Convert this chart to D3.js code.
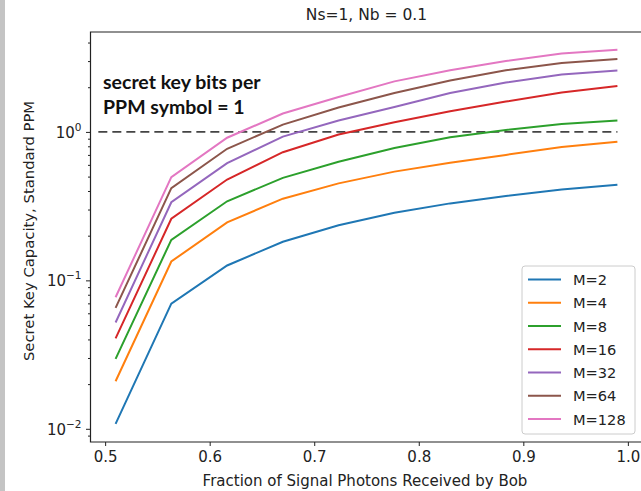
<!DOCTYPE html>
<html>
<head>
<meta charset="utf-8">
<script src="https://cdn.jsdelivr.net/npm/d3@7"></script>
<style>
body { margin: 0; background: #fff; }
svg { display: block; font-family: "DejaVu Sans", sans-serif; }
</style>
</head>
<body>
<svg id="chart" width="641" height="491"></svg>
<script>
// fraction of signal photons received (np.linspace(0.51, 0.99, 10))
var fractions = [0.51, 0.5633, 0.6167, 0.67, 0.7233, 0.7767, 0.83, 0.8833, 0.9367, 0.99];

var seriesNames = ["M=2", "M=4", "M=8", "M=16", "M=32", "M=64", "M=128"];

var capM2   = [0.0108, 0.0697, 0.126, 0.182, 0.235, 0.285, 0.33, 0.37, 0.41, 0.44];
var capM4   = [0.0209, 0.134, 0.246, 0.355, 0.45, 0.54, 0.62, 0.70, 0.79, 0.86];
var capM8   = [0.0296, 0.1875, 0.341, 0.49, 0.63, 0.78, 0.92, 1.03, 1.13, 1.195];
var capM16  = [0.0407, 0.26, 0.478, 0.73, 0.96, 1.16, 1.38, 1.60, 1.84, 2.04];
var capM32  = [0.052, 0.336, 0.616, 0.93, 1.195, 1.47, 1.83, 2.15, 2.44, 2.59];
var capM64  = [0.0652, 0.418, 0.77, 1.12, 1.46, 1.83, 2.22, 2.60, 2.91, 3.10];
var capM128 = [0.0769, 0.496, 0.914, 1.33, 1.72, 2.19, 2.6, 3.0, 3.37, 3.58];

var capacities = [capM2, capM4, capM8, capM16, capM32, capM64, capM128];

var colors = ["#1f77b4", "#ff7f0e", "#2ca02c", "#d62728", "#9467bd", "#8c564b", "#e377c2"];

var xTicks = [0.5, 0.6, 0.7, 0.8, 0.9, 1.0];
var yMajor = [0.01, 0.1, 1];
var threshold = 1;

var svg = d3.select("#chart");

// plot frame
var pLeft = 90.5, pRight = 642.5, pTop = 32, pBottom = 442;

var x = d3.scaleLinear().domain([0.486, 1.014]).range([pLeft, pRight]);
var y = d3.scaleLog().domain([0.00815, 4.71]).range([pBottom, pTop]);

// screenshot border on the left
svg.append("rect").attr("x", 0).attr("y", 0).attr("width", 5).attr("height", 491).attr("fill", "#c4c4c4");

// title
svg.append("text")
	.attr("x", (pLeft + pRight) / 2)
	.attr("y", 20)
	.attr("text-anchor", "middle")
	.style("font-size", "15.5px")
	.attr("fill", "#222")
	.text("Ns=1, Nb = 0.1");

// clip for lines
svg.append("clipPath").attr("id", "clip")
	.append("rect").attr("x", pLeft).attr("y", pTop).attr("width", pRight - pLeft).attr("height", pBottom - pTop);

// x axis
var xAxis = d3.axisBottom(x).tickValues(xTicks).tickFormat(d3.format(".1f")).tickSize(4).tickPadding(5);
var gx = svg.append("g").attr("transform", "translate(0," + pBottom + ")").call(xAxis);
gx.select(".domain").remove();
gx.selectAll(".tick line").attr("stroke", "#222").attr("stroke-width", 1);
gx.selectAll(".tick text")
	.style("font-family", "DejaVu Sans")
	.style("font-size", "15px")
	.attr("fill", "#222");

// y axis: minor ticks
var minor = [];
[0.001, 0.01, 0.1, 1].forEach(function(dec) {
	for (var k = 2; k <= 9; k++) {
		var v = dec * k;
		if (v >= y.domain()[0] && v <= y.domain()[1]) minor.push(v);
	}
});
var gyMinor = svg.append("g").attr("transform", "translate(" + pLeft + ",0)")
	.call(d3.axisLeft(y).tickValues(minor).tickFormat("").tickSize(2.5));
gyMinor.select(".domain").remove();
gyMinor.selectAll(".tick line").attr("stroke", "#222");

var gy = svg.append("g").attr("transform", "translate(" + pLeft + ",0)")
	.call(d3.axisLeft(y).tickValues(yMajor).tickFormat("").tickSize(4.5));
gy.select(".domain").remove();
gy.selectAll(".tick line").attr("stroke", "#222");

// y tick labels with superscript exponents
gy.selectAll(".tick").each(function(d) {
	var t = d3.select(this).append("text")
		.attr("x", -9)
		.attr("y", 5.5)
		.attr("text-anchor", "end")
		.attr("fill", "#222")
		.style("font-family", "DejaVu Sans")
		.style("font-size", "15px");
	t.append("tspan").text("10");
	t.append("tspan")
		.attr("dy", -7)
		.style("font-size", "10.5px")
		.text(d3.format("d")(Math.round(Math.log10(d))).replace("-", "\u2212"));
});

// axis labels
svg.append("text")
	.attr("x", 365)
	.attr("y", 486)
	.attr("text-anchor", "middle")
	.style("font-size", "15px")
	.attr("fill", "#222")
	.text("Fraction of Signal Photons Received by Bob");

svg.append("text")
	.attr("transform", "translate(34," + 231 + ") rotate(-90)")
	.attr("text-anchor", "middle")
	.style("font-size", "14.8px")
	.attr("fill", "#222")
	.text("Secret Key Capacity, Standard PPM");

// threshold line
svg.append("line")
	.attr("x1", x(0.4935)).attr("x2", x(0.99))
	.attr("y1", y(threshold)).attr("y2", y(threshold))
	.attr("stroke", "#444")
	.attr("stroke-width", 1.6)
	.attr("stroke-dasharray", "9,5");

svg.append("text")
	.attr("x", 103)
	.attr("y", 89)
	.style("font-family", "Lato, sans-serif")
	.style("font-weight", "bold")
	.style("font-size", "19.5px")
	.attr("fill", "#111")
	.text("secret key bits per");
svg.append("text")
	.attr("x", 103)
	.attr("y", 114)
	.style("font-family", "Lato, sans-serif")
	.style("font-weight", "bold")
	.style("font-size", "19.5px")
	.attr("fill", "#111")
	.text("PPM symbol = 1");

// lines
var line = d3.line()
	.x(function(d, i) { return x(fractions[i]); })
	.y(function(d) { return y(d); });

svg.append("g").attr("clip-path", "url(#clip)")
	.selectAll("path")
	.data(capacities)
	.enter()
	.append("path")
		.attr("d", line)
		.attr("fill", "none")
		.attr("stroke", function(d, i) { return colors[i]; })
		.attr("stroke-width", 2);

// frame
svg.append("path")
	.attr("d", "M" + pRight + "," + pTop + "H" + pLeft + "V" + pBottom + "H" + pRight)
	.attr("fill", "none")
	.attr("stroke", "#222")
	.attr("stroke-width", 1.2);

// legend
var lg = svg.append("g").attr("transform", "translate(522,266)");
lg.append("rect")
	.attr("width", 113).attr("height", 168)
	.attr("rx", 3)
	.attr("fill", "#fff")
	.attr("fill-opacity", 0.9)
	.attr("stroke", "#ccc");

var rowY = d3.scalePoint().domain(seriesNames).range([13.5, 153]);

var items = lg.selectAll("g.item")
	.data(seriesNames)
	.enter()
	.append("g")
		.attr("class", "item")
		.attr("transform", function(d) { return "translate(0," + rowY(d) + ")"; });

items.append("line")
	.attr("x1", 6).attr("x2", 39)
	.attr("stroke", function(d, i) { return colors[i]; })
	.attr("stroke-width", 2);

items.append("text")
	.attr("x", 51)
	.attr("y", 5.5)
	.style("font-size", "14.6px")
	.attr("fill", "#222")
	.text(function(d) { return d; });
</script>
</body>
</html>
